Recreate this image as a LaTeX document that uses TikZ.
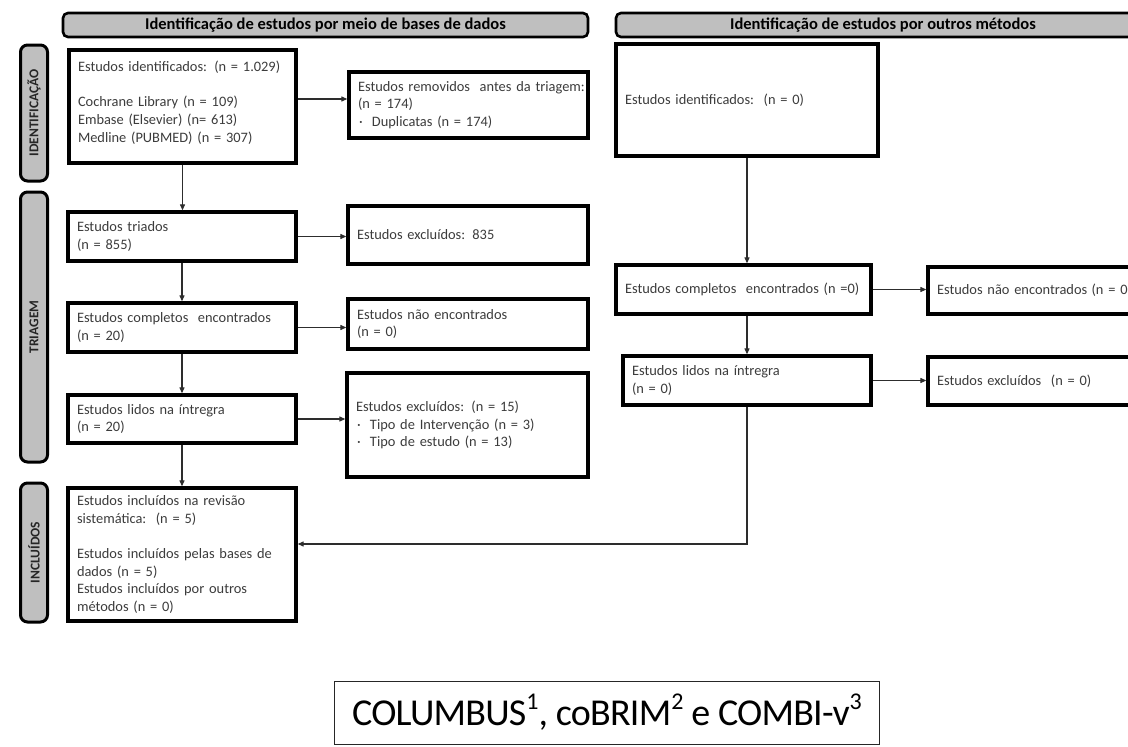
\documentclass[tikz,border=0pt]{standalone}
\usepackage{fontspec}
\setmainfont{Carlito}
\newfontfamily\bigfont[LetterSpace=-2]{Carlito}
\usetikzlibrary{arrows.meta}
\definecolor{hdrgray}{RGB}{191,191,191}
\definecolor{txt}{RGB}{60,60,60}
\definecolor{lnc}{RGB}{45,45,45}
\newcommand{\bul}[1]{\makebox[14pt][l]{\hspace{1pt}·}#1}
\newcommand{\bigsup}[1]{\raisebox{0.42em}{\fontsize{24}{24}\selectfont #1}}
\tikzset{
  pbox/.style={draw=black, line width=3.3pt, fill=white, inner xsep=9pt, inner ysep=0pt,
    align=left, text=txt, font=\fontsize{14.4}{17.6}\selectfont},
  hdr/.style={draw=black, line width=2.6pt, fill=hdrgray, rounded corners=5pt,
    font=\bfseries\fontsize{16.5}{19}\selectfont, text=black, inner sep=0pt},
  sidebar/.style={draw=black, line width=3pt, fill=hdrgray, rounded corners=7pt, inner sep=0pt,
    rotate=90, font=\bfseries\fontsize{13.5}{15}\selectfont, text=black!85},
  arr/.style={draw=lnc, line width=1.1pt, -{Triangle[length=6pt,width=5pt]}},
}
\begin{document}
\begin{tikzpicture}[x=1pt,y=-1pt]
\useasboundingbox (0,0) rectangle (1128,747);
\clip (0,0) rectangle (1128,747);
\fill[white] (0,0) rectangle (1128,747);

% headers
\node[hdr, minimum width=525pt, minimum height=24pt] (hdrL) at (325.5,25)
  {Identificação de estudos por meio de bases de dados};
\node[hdr, minimum width=534pt, minimum height=24pt] (hdrR) at (883,25)
  {Identificação de estudos por outros métodos};

% side bars
\node[sidebar, minimum width=136pt, minimum height=27pt] (barI) at (34,113) {IDENTIFICAÇÃO};
\node[sidebar, minimum width=270pt, minimum height=27pt] (barT) at (34,327) {TRIAGEM};
\node[sidebar, minimum width=139pt, minimum height=27pt] (barN) at (34,552.5) {INCLUÍDOS};

% left column
\node[pbox, minimum width=227pt, text width=209pt, minimum height=113pt] (boxA) at (182.5,106.5)
  {Estudos identificados: (n = 1.029)\\[17.6pt]Cochrane Library (n = 109)\\Embase (Elsevier) (n= 613)\\Medline (PUBMED) (n = 307)\\[-8pt]\mbox{}};
\node[pbox, minimum width=239pt, text width=221pt, minimum height=66pt] (boxB) at (468.5,105)
  {\mbox{Estudos removidos\ \ antes da triagem:}\\(n = 174)\\\bul{Duplicatas (n = 174)}};
\node[pbox, minimum width=228pt, text width=210pt, minimum height=49pt] (boxC) at (182,236.5)
  {Estudos triados\\(n = 855)};
\node[pbox, minimum width=240pt, text width=222pt, minimum height=58pt] (boxD) at (468,235)
  {Estudos excluídos: 835};
\node[pbox, minimum width=228pt, text width=210pt, minimum height=49pt] (boxE) at (182,327.5)
  {Estudos completos\ \ encontrados\\(n = 20)};
\node[pbox, minimum width=240pt, text width=222pt, minimum height=50pt] (boxF) at (468,324)
  {Estudos não encontrados\\(n = 0)};
\node[pbox, minimum width=228pt, text width=210pt, minimum height=48pt] (boxG) at (182,419)
  {Estudos lidos na íntregra\\(n = 20)};
\node[pbox, minimum width=241pt, text width=223pt, minimum height=104pt] (boxH) at (467.5,425)
  {Estudos excluídos: (n = 15)\\\bul{Tipo de Intervenção (n = 3)}\\\bul{Tipo de estudo (n = 13)}};
\node[pbox, minimum width=228pt, text width=210pt, minimum height=133pt] (boxI) at (182,554.5)
  {Estudos incluídos na revisão\\sistemática:\ \ (n = 5)\\[17.6pt]Estudos incluídos pelas bases de\\dados (n = 5)\\Estudos incluídos por outros\\métodos (n = 0)};

% right column
\node[pbox, minimum width=262pt, text width=244pt, minimum height=112pt] (boxR) at (747,100)
  {Estudos identificados:\ \ (n = 0)};
\node[pbox, minimum width=255pt, text width=237pt, minimum height=49pt] (boxJ) at (743.5,289.5)
  {Estudos completos\ \ encontrados (n =0)};
\node[pbox, minimum width=222pt, text width=204pt, minimum height=47pt] (boxK) at (1039,290.5)
  {Estudos não encontrados\hspace{0.3em}(n = 0)};
\node[pbox, minimum width=248pt, text width=230pt, minimum height=49pt] (boxL) at (747,380.5)
  {Estudos lidos na íntregra\\(n = 0)};
\node[pbox, minimum width=222pt, text width=204pt, minimum height=48pt] (boxM) at (1039,381)
  {Estudos excluídos\ \ (n = 0)};

% bottom label
\node[draw=black!85, line width=1pt, fill=white, inner xsep=18pt, minimum height=63pt,
  font=\bigfont\fontsize{38}{44}\selectfont, text=black] (bottom) at (607,712.5)
  {COLUMBUS\bigsup{1}, coBRIM\bigsup{2} e COMBI-v\bigsup{3}};

% connectors left
\coordinate (ab) at (349,99);
\draw[arr] (boxA.east |- ab) -- (boxB.west |- ab);
\draw[arr] (boxC.east) -- (boxC.east -| boxD.west);
\draw[arr] (boxE.east) -- (boxE.east -| boxF.west);
\draw[arr] (boxG.east) -- (boxG.east -| boxH.west);
\draw[arr] (boxA.south) -- (boxA.south |- boxC.north);
\draw[arr] (boxC.south) -- (boxC.south |- boxE.north);
\draw[arr] (boxE.south) -- (boxE.south |- boxG.north);
\draw[arr] (boxG.south) -- (boxG.south |- boxI.north);

% connectors right
\draw[arr] (boxR.south) -- (boxR.south |- boxJ.north);
\draw[arr] (boxR.south |- boxJ.south) -- (boxL.north);
\draw[arr] (boxJ.east) -- (boxJ.east -| boxK.west);
\draw[arr] (boxL.east) -- (boxL.east -| boxM.west);
\coordinate (join) at (747,544);
\draw[arr] (boxL.south) -- (join) -- (join -| boxI.east);
\end{tikzpicture}
\end{document}
